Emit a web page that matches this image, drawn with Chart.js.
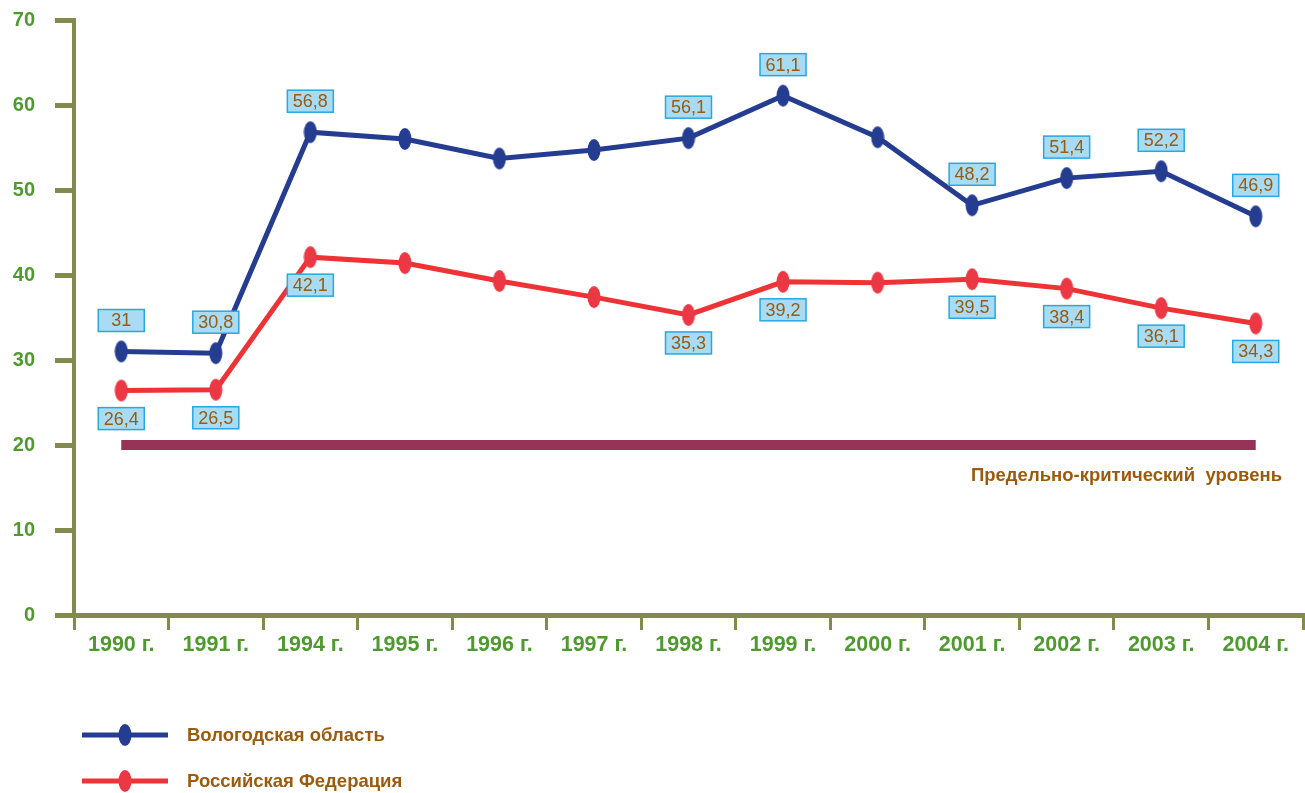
<!DOCTYPE html>
<html>
<head>
<meta charset="utf-8">
<script src="https://cdn.jsdelivr.net/npm/chart.js@4"></script>
<style>
  body { margin: 0; background: #fff; }
  #wrap { width: 1305px; height: 793px; position: relative; }
</style>
</head>
<body>
<div id="wrap"><canvas id="chart"></canvas></div>
<script>
const years = ['1990 г.', '1991 г.', '1994 г.', '1995 г.', '1996 г.', '1997 г.', '1998 г.', '1999 г.', '2000 г.', '2001 г.', '2002 г.', '2003 г.', '2004 г.'];
const vologda = [31, 30.8, 56.8, 56.0, 53.7, 54.7, 56.1, 61.1, 56.2, 48.2, 51.4, 52.2, 46.9];
const russia = [26.4, 26.5, 42.1, 41.4, 39.3, 37.4, 35.3, 39.2, 39.1, 39.5, 38.4, 36.1, 34.3];
const criticalLevel = 20;
const labeledPoints = [0, 1, 2, 6, 7, 9, 10, 11, 12];
const yTicks = [0, 10, 20, 30, 40, 50, 60, 70];

const BLUE = '#253d90';
const RED = '#ee3337';
const OLIVE = '#838a4b';
const GREEN = '#4f9a2f';
const BROWN = '#9c5a0c';
const FONT = "'Liberation Sans', Arial, sans-serif";

function makeMarker(color) {
    const c = document.createElement('canvas');
    c.width = 14; c.height = 24;
    const g = c.getContext('2d');
    g.fillStyle = color;
    g.beginPath();
    g.ellipse(7, 12, 6.5, 11, 0, 0, Math.PI * 2);
    g.fill();
    return c;
}
const blueMarker = makeMarker(BLUE);
const redMarker = makeMarker('#ec3845');

function fmt(v) {
    return String(v).replace('.', ',');
}

// value boxes above the blue line and below the red one
const valueBoxes = {
    id: 'valueBoxes',
    afterDatasetsDraw(chart) {
        const { ctx } = chart;
        ctx.save();
        ctx.font = '18px ' + FONT;
        ctx.textAlign = 'center';
        ctx.textBaseline = 'middle';
        [[0, -31], [1, 28]].forEach(([di, dy]) => {
            const meta = chart.getDatasetMeta(di);
            const data = chart.data.datasets[di].data;
            labeledPoints.forEach(i => {
                const p = meta.data[i];
                const x = p.x, y = p.y + dy;
                ctx.fillStyle = '#a8dcf5';
                ctx.fillRect(x - 23, y - 11, 46, 22);
                ctx.strokeStyle = '#2aa6e0';
                ctx.lineWidth = 1.5;
                ctx.strokeRect(x - 23, y - 11, 46, 22);
                ctx.fillStyle = BROWN;
                ctx.fillText(fmt(data[i]), x, y + 1);
            });
        });
        ctx.restore();
    }
};

// critical level caption and the legend block at the bottom
const extras = {
    id: 'extras',
    afterDraw(chart) {
        const { ctx } = chart;
        ctx.save();
        ctx.fillStyle = BROWN;
        ctx.font = 'bold 18.5px ' + FONT;
        ctx.textAlign = 'right';
        ctx.textBaseline = 'middle';
        ctx.fillText('Предельно-критический  уровень', 1282, 476);

        const items = [
            { label: 'Вологодская область', color: BLUE, marker: blueMarker, y: 735 },
            { label: 'Российская Федерация', color: RED, marker: redMarker, y: 781 }
        ];
        items.forEach(it => {
            ctx.strokeStyle = it.color;
            ctx.lineWidth = 5;
            ctx.beginPath();
            ctx.moveTo(82, it.y);
            ctx.lineTo(168, it.y);
            ctx.stroke();
            ctx.drawImage(it.marker, 125 - 7, it.y - 12);
            ctx.fillStyle = BROWN;
            ctx.textAlign = 'left';
            ctx.fillText(it.label, 187, it.y + 1);
        });
        ctx.restore();
    }
};

new Chart(document.getElementById('chart'), {
    type: 'line',
    data: {
        labels: years,
        datasets: [{
            label: 'Вологодская область',
            data: vologda,
            borderColor: BLUE,
            backgroundColor: BLUE,
            borderWidth: 5,
            pointStyle: blueMarker,
            tension: 0
        }, {
            label: 'Российская Федерация',
            data: russia,
            borderColor: RED,
            backgroundColor: RED,
            borderWidth: 5,
            pointStyle: redMarker,
            tension: 0
        }, {
            label: 'Предельно-критический уровень',
            data: years.map(() => criticalLevel),
            borderColor: '#963458',
            borderWidth: 10,
            pointRadius: 0,
            borderCapStyle: 'butt'
        }]
    },
    options: {
        responsive: true,
        maintainAspectRatio: false,
        animation: false,
        layout: { autoPadding: false, padding: { top: 20, right: 2, bottom: 128, left: 0 } },
        plugins: {
            legend: { display: false },
            tooltip: { enabled: false }
        },
        scales: {
            x: {
                offset: true,
                grid: {
                    offset: true,
                    drawOnChartArea: false,
                    drawTicks: true,
                    tickLength: 15,
                    color: OLIVE,
                    lineWidth: 3
                },
                border: { display: true, color: OLIVE, width: 5 },
                ticks: {
                    color: GREEN,
                    font: { family: FONT, size: 21.5, weight: 'bold' },
                    padding: 2,
                    maxRotation: 0,
                    autoSkip: false
                },
                afterFit(scale) {
                    scale.height = 50;
                    scale.paddingLeft = 0;
                    scale.paddingRight = 0;
                }
            },
            y: {
                min: 0,
                max: 70,
                afterBuildTicks(scale) { scale.ticks = yTicks.map(v => ({ value: v })); },
                grid: {
                    drawOnChartArea: false,
                    drawTicks: true,
                    tickLength: 19,
                    color: OLIVE,
                    lineWidth: 5
                },
                border: { display: true, color: OLIVE, width: 4 },
                ticks: {
                    color: GREEN,
                    font: { family: FONT, size: 20, weight: 'bold' },
                    padding: 20
                },
                afterFit(scale) {
                    scale.width = 74;
                    scale.paddingTop = 0;
                    scale.paddingBottom = 0;
                }
            }
        }
    },
    plugins: [valueBoxes, extras]
});
</script>
</body>
</html>
